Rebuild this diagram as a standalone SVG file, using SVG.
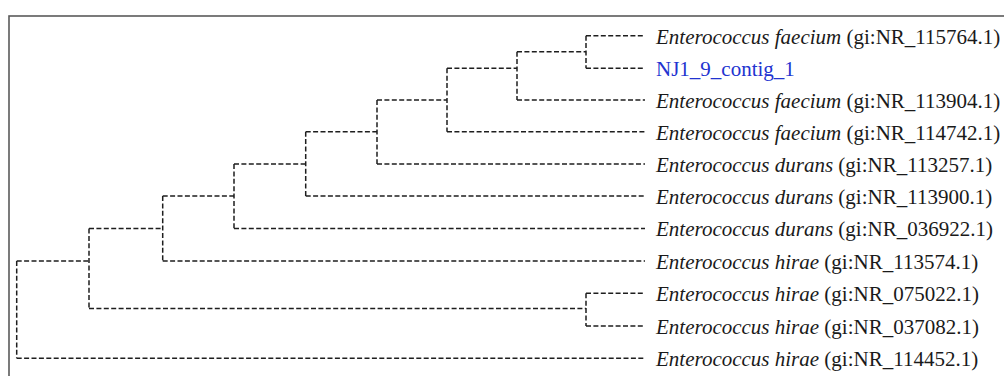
<svg xmlns="http://www.w3.org/2000/svg" width="1004" height="376" viewBox="0 0 1004 376">
<style>
.frame{fill:none;stroke:#5a5a5a;stroke-width:1.6}
.br{fill:none;stroke:#1e1e1e;stroke-width:1.5;stroke-dasharray:5 2.4}
.lbl{font-family:"Liberation Serif","Times New Roman",serif;font-size:21px;fill:#1a1a1a}
.sp{font-style:italic}
.q{fill:#2233d0}
</style>
<rect class="frame" x="9" y="16" width="1020" height="400"/>
<g id="connectors">
<path class="br" d="M586,35.7 H645 M586,68.3 H645 M586,35.7 V68.3"/>
<path class="br" d="M517,51.7 H586 M517,100 H645 M517,51.7 V100"/>
<path class="br" d="M447,68.3 H517 M447,131.7 H645 M447,68.3 V131.7"/>
<path class="br" d="M377,100 H447 M377,164 H645 M377,100 V164"/>
<path class="br" d="M305.7,131.7 H377 M305.7,196 H645 M305.7,131.7 V196"/>
<path class="br" d="M234,164 H305.7 M234,228.5 H645 M234,164 V228.5"/>
<path class="br" d="M162.7,196 H234 M162.7,261 H645 M162.7,196 V261"/>
<path class="br" d="M586,293.3 H645 M586,326 H645 M586,293.3 V326"/>
<path class="br" d="M89,228.5 H162.7 M89,308.5 H586 M89,228.5 V308.5"/>
<path class="br" d="M16.7,261 H89 M16.7,358.3 H645 M16.7,261 V358.3"/>
</g>
<g id="leaf1"><text class="lbl" x="656" y="43.5"><tspan class="sp">Enterococcus faecium</tspan> (gi:NR_115764.1)</text></g>
<g id="leaf2"><text class="lbl q" x="656" y="76">NJ1_9_contig_1</text></g>
<g id="leaf3"><text class="lbl" x="656" y="107.8"><tspan class="sp">Enterococcus faecium</tspan> (gi:NR_113904.1)</text></g>
<g id="leaf4"><text class="lbl" x="656" y="139.5"><tspan class="sp">Enterococcus faecium</tspan> (gi:NR_114742.1)</text></g>
<g id="leaf5"><text class="lbl" x="656" y="171.8"><tspan class="sp">Enterococcus durans</tspan> (gi:NR_113257.1)</text></g>
<g id="leaf6"><text class="lbl" x="656" y="203.8"><tspan class="sp">Enterococcus durans</tspan> (gi:NR_113900.1)</text></g>
<g id="leaf7"><text class="lbl" x="656" y="236.3"><tspan class="sp">Enterococcus durans</tspan> (gi:NR_036922.1)</text></g>
<g id="leaf8"><text class="lbl" x="656" y="268.8"><tspan class="sp">Enterococcus hirae</tspan> (gi:NR_113574.1)</text></g>
<g id="leaf9"><text class="lbl" x="656" y="301"><tspan class="sp">Enterococcus hirae</tspan> (gi:NR_075022.1)</text></g>
<g id="leaf10"><text class="lbl" x="656" y="333.8"><tspan class="sp">Enterococcus hirae</tspan> (gi:NR_037082.1)</text></g>
<g id="leaf11"><text class="lbl" x="656" y="366"><tspan class="sp">Enterococcus hirae</tspan> (gi:NR_114452.1)</text></g>
</svg>
